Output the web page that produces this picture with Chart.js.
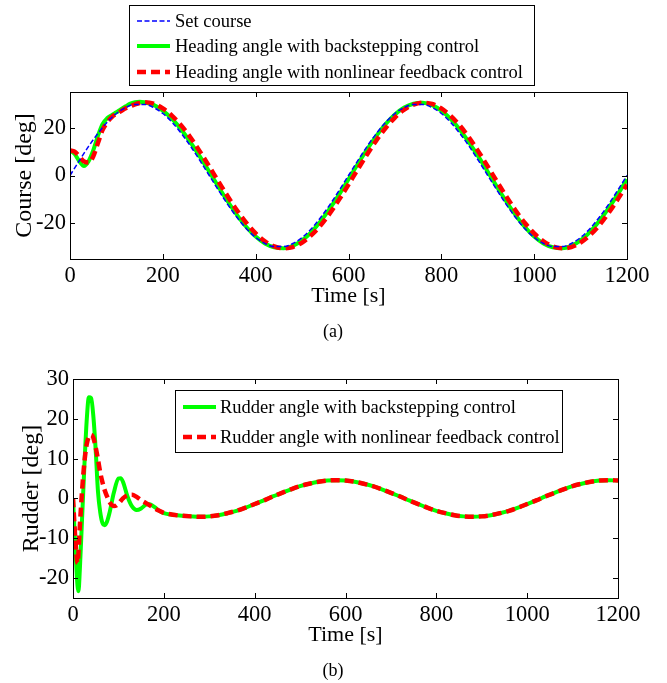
<!DOCTYPE html>
<html><head><meta charset="utf-8">
<script src="https://cdn.jsdelivr.net/npm/chart.js@4.4.1/dist/chart.umd.min.js"></script>
<style>
html,body{margin:0;padding:0;background:#fff;}
#wrap{position:relative;width:667px;height:683px;background:#fff;}
#c1{position:absolute;left:0;top:0;}
#c2{position:absolute;left:0;top:345px;}
</style></head><body>
<div id="wrap"><canvas id="c1" width="667" height="345"></canvas><canvas id="c2" width="667" height="338"></canvas></div>
<script>
// ---------- data (a) Course ----------
const timeTicks = [0,200,400,600,800,1000,1200];
const courseTicks = [-20,0,20];
const rudderTicks = [-20,-10,0,10,20,30];

const setCourseT = [0,20,40,60,80,100,120,140,160,180,200,220,240,260,280,300,320,340,360,380,400,420,440,460,480,500,520,540,560,580,600,620,640,660,680,700,720,740,760,780,800,820,840,860,880,900,920,940,960,980,1000,1020,1040,1060,1080,1100,1120,1140,1160,1180,1200];
const setCourse = [0,6.2,12.2,17.6,22.3,26.0,28.5,29.8,29.8,28.5,26.0,22.3,17.6,12.2,6.2,0,-6.2,-12.2,-17.6,-22.3,-26.0,-28.5,-29.8,-29.8,-28.5,-26.0,-22.3,-17.6,-12.2,-6.2,0,6.2,12.2,17.6,22.3,26.0,28.5,29.8,29.8,28.5,26.0,22.3,17.6,12.2,6.2,0,-6.2,-12.2,-17.6,-22.3,-26.0,-28.5,-29.8,-29.8,-28.5,-26.0,-22.3,-17.6,-12.2,-6.2,0];

const headBackT = [0,10,20,30,40,50,60,70,80,90,100,110,120,130,140,150,160,180,200,220,240,260,280,300,320,340,360,380,400,420,440,460,480,500,520,540,560,580,600,620,640,660,680,700,720,740,760,780,800,820,840,860,880,900,920,940,960,980,1000,1020,1040,1060,1080,1100,1120,1140,1160,1180,1200];
const headBack = [10.5,9,6,4,6,10.5,16.5,21.5,24,25.3,26.5,27.8,29,30.1,30.7,30.9,30.7,29.6,27.2,23.7,19.2,13.8,7.9,1.6,-4.8,-10.9,-16.6,-21.6,-25.6,-28.5,-30.1,-30.5,-29.5,-27.2,-23.7,-19.2,-13.8,-7.9,-1.6,4.8,10.9,16.6,21.6,25.6,28.5,30.1,30.5,29.5,27.2,23.7,19.2,13.8,7.9,1.6,-4.8,-10.9,-16.6,-21.6,-25.6,-28.5,-30.1,-30.5,-29.5,-27.2,-23.7,-19.2,-13.8,-7.9,-1.6];

const headFbT = [0,10,20,30,40,50,60,70,80,90,100,110,120,130,140,150,160,180,200,220,240,260,280,300,320,340,360,380,400,420,440,460,480,500,520,540,560,580,600,620,640,660,680,700,720,740,760,780,800,820,840,860,880,900,920,940,960,980,1000,1020,1040,1060,1080,1100,1120,1140,1160,1180,1200];
const headFb = [10.5,10,8,5.9,5.4,8,13.5,19,22.2,24.5,25.9,27,28.2,29,29.8,30.4,30.7,30.1,28.1,25.0,20.9,15.8,10.0,3.8,-2.6,-8.8,-14.7,-19.9,-24.3,-27.6,-29.7,-30.5,-30.0,-28.1,-25.0,-20.9,-15.8,-10.0,-3.8,2.6,8.8,14.7,19.9,24.3,27.6,29.7,30.5,30.0,28.1,25.0,20.9,15.8,10.0,3.8,-2.6,-8.8,-14.7,-19.9,-24.3,-27.6,-29.7,-30.5,-30.0,-28.1,-25.0,-20.9,-15.8,-10.0,-3.8];

// ---------- data (b) Rudder ----------
const rudBackT = [0,5,10,12,15,20,25,30,35,40,45,50,55,60,65,70,75,80,90,100,105,110,120,130,140,150,160,165,170,180,190,200,220,240,260,280,300,320,340,360,380,400,420,440,460,480,500,520,540,560,580,600,620,640,660,680,700,720,740,760,780,800,820,840,860,880,900,920,940,960,980,1000,1020,1040,1060,1080,1100,1120,1140,1160,1180,1200];
const rudBack = [0,-12,-22,-23.3,-18,-5,8,19.3,25.4,25.2,20.4,12.1,1.7,-3.5,-6.2,-6.7,-5.8,-3.8,1.5,5,5.1,4.2,0.5,-2.0,-2.9,-2.5,-1.6,-1.4,-1.5,-2.2,-3.1,-3.7,-4.1,-4.35,-4.5,-4.6,-4.5,-4.2,-3.7,-3.1,-2.3,-1.4,-0.5,0.5,1.4,2.3,3.1,3.7,4.2,4.5,4.6,4.5,4.2,3.7,3.1,2.3,1.4,0.5,-0.5,-1.4,-2.3,-3.1,-3.7,-4.2,-4.5,-4.6,-4.5,-4.2,-3.7,-3.1,-2.3,-1.4,-0.5,0.5,1.4,2.3,3.1,3.7,4.2,4.5,4.6,4.5];

const rudFbT = [0,5,10,15,20,25,30,35,40,45,50,55,60,65,70,75,80,85,90,95,100,110,120,130,140,150,160,170,180,190,200,220,240,260,280,300,320,340,360,380,400,420,440,460,480,500,520,540,560,580,600,620,640,660,680,700,720,740,760,780,800,820,840,860,880,900,920,940,960,980,1000,1020,1040,1060,1080,1100,1120,1140,1160,1180,1200];
const rudFb = [0,-10,-16.3,-7,2,9,13.5,15.5,16,15.2,12.8,9.8,6.5,4,2,0.5,-0.8,-1.6,-1.9,-1.8,-1.3,0,0.8,0.9,0.4,-0.4,-1.1,-1.8,-2.5,-3.1,-3.6,-4.1,-4.35,-4.5,-4.6,-4.5,-4.2,-3.7,-3.1,-2.3,-1.4,-0.5,0.5,1.4,2.3,3.1,3.7,4.2,4.5,4.6,4.5,4.2,3.7,3.1,2.3,1.4,0.5,-0.5,-1.4,-2.3,-3.1,-3.7,-4.2,-4.5,-4.6,-4.5,-4.2,-3.7,-3.1,-2.3,-1.4,-0.5,0.5,1.4,2.3,3.1,3.7,4.2,4.5,4.6,4.5];

const labelsA = ['Set course','Heading angle with backstepping control','Heading angle with nonlinear feedback control'];
const labelsB = ['Rudder angle with backstepping control','Rudder angle with nonlinear feedback control'];

// ---------- helpers ----------
const pair = (t, v) => t.map((x, i) => ({x: x, y: v[i]}));
const FONT = 'Liberation Serif, Times New Roman, serif';
const BLUE = '#0000ff', GREEN = '#00ff00', RED = '#ff0000';

const framePlugin = {
  id: 'frame',
  afterDraw(chart, args, o) {
    const ctx = chart.ctx, a = chart.chartArea, xs = chart.scales.x, ys = chart.scales.y;
    ctx.save();
    ctx.strokeStyle = '#000'; ctx.lineWidth = 1; ctx.setLineDash([]);
    ctx.strokeRect(a.left + 0.5, a.top + 0.5, a.right - a.left, a.bottom - a.top);
    const L = 5;
    ctx.beginPath();
    xs.ticks.forEach(t => {
      const p = Math.round(xs.getPixelForValue(t.value)) + 0.5;
      ctx.moveTo(p, a.bottom); ctx.lineTo(p, a.bottom - L);
      ctx.moveTo(p, a.top); ctx.lineTo(p, a.top + L);
    });
    ys.ticks.forEach(t => {
      const p = Math.round(ys.getPixelForValue(t.value)) + 0.5;
      ctx.moveTo(a.left, p); ctx.lineTo(a.left + L, p);
      ctx.moveTo(a.right, p); ctx.lineTo(a.right - L, p);
    });
    ctx.stroke();
    // legend
    const lg = o.legend;
    if (lg) {
      ctx.fillStyle = '#fff';
      ctx.fillRect(lg.x, lg.y, lg.w, lg.h);
      ctx.strokeStyle = '#000'; ctx.lineWidth = 1;
      ctx.strokeRect(lg.x + 0.5, lg.y + 0.5, lg.w, lg.h);
      const ds = chart.data.datasets;
      lg.items.forEach((idx, k) => {
        const d = ds[idx], y = lg.rows[k];
        ctx.save();
        ctx.strokeStyle = d.borderColor; ctx.lineWidth = d.borderWidth;
        ctx.setLineDash(d.borderDash || []);
        ctx.beginPath(); ctx.moveTo(lg.sx0, y); ctx.lineTo(lg.sx1, y); ctx.stroke();
        ctx.restore();
        ctx.fillStyle = '#000'; ctx.font = lg.font; ctx.textBaseline = 'middle'; ctx.textAlign = 'left';
        ctx.fillText(d.label, lg.tx, y + 1);
      });
    }
    if (o.caption) {
      ctx.fillStyle = '#000'; ctx.font = o.caption.font; ctx.textAlign = 'center'; ctx.textBaseline = 'middle';
      ctx.fillText(o.caption.text, o.caption.x, o.caption.y);
    }
    ctx.restore();
  }
};

function makeScales(xmin, xmax, ymin, ymax, xt, yt, ytitle, yw, ytitlePad) {
  return {
    x: {
      type: 'linear', min: xmin, max: xmax,
      afterBuildTicks: s => { s.ticks = xt.map(v => ({value: v})); },
      afterFit: s => { s.height = 50; },
      grid: {display: false, drawTicks: false},
      border: {display: false},
      ticks: {color: '#000', padding: 4, font: {family: FONT, size: 22.5}, maxRotation: 0, autoSkip: false, callback: v => String(v)},
      title: {display: true, text: 'Time [s]', color: '#000', font: {family: FONT, size: 22}, padding: {top: 0, bottom: 0}}
    },
    y: {
      type: 'linear', min: ymin, max: ymax,
      afterBuildTicks: s => { s.ticks = yt.map(v => ({value: v})); },
      afterFit: s => { s.width = yw; },
      grid: {display: false, drawTicks: false},
      border: {display: false},
      ticks: {color: '#000', padding: 4, font: {family: FONT, size: 22.5}, autoSkip: false, callback: v => String(v)},
      title: {display: true, text: ytitle, color: '#000', font: {family: FONT, size: 24}, padding: {top: ytitlePad, bottom: 0}}
    }
  };
}

const common = {
  responsive: false, animation: false, devicePixelRatio: 1,
  elements: {point: {radius: 0}, line: {cubicInterpolationMode: 'monotone'}},
  plugins: {legend: {display: false}, tooltip: {enabled: false}}
};

new Chart(document.getElementById('c1'), {
  type: 'line',
  data: {datasets: [
    {label: labelsA[0], data: pair(setCourseT, setCourse), borderColor: BLUE, borderWidth: 1.5, borderDash: [5, 2.5], fill: false, order: 0},
    {label: labelsA[1], data: pair(headBackT, headBack), borderColor: GREEN, borderWidth: 4, fill: false, order: 2},
    {label: labelsA[2], data: pair(headFbT, headFb), borderColor: RED, borderWidth: 4.5, borderDash: [9, 5], fill: false, order: 1}
  ]},
  options: Object.assign({}, common, {
    layout: {padding: {left: 0, top: 92, right: 40, bottom: 36}},
    scales: makeScales(0, 1200, -35, 35, timeTicks, courseTicks, 'Course [deg]', 70, 10),
    plugins: Object.assign({}, common.plugins, {
      frame: {
        legend: {x: 129, y: 5, w: 405, h: 80, rows: [21, 46, 72], sx0: 137, sx1: 170, tx: 175, items: [0, 1, 2], font: '18.5px ' + FONT},
        caption: {text: '(a)', x: 333, y: 332, font: '18px ' + FONT}
      }
    })
  }),
  plugins: [framePlugin]
});

new Chart(document.getElementById('c2'), {
  type: 'line',
  data: {datasets: [
    {label: labelsB[0], data: pair(rudBackT, rudBack), borderColor: GREEN, borderWidth: 4, fill: false, order: 1},
    {label: labelsB[1], data: pair(rudFbT, rudFb), borderColor: RED, borderWidth: 4.5, borderDash: [9, 5], fill: false, order: 0}
  ]},
  options: Object.assign({}, common, {
    layout: {padding: {left: 0, top: 34, right: 49, bottom: 35}},
    scales: makeScales(0, 1200, -25, 30, timeTicks, rudderTicks, 'Rudder [deg]', 73, 17),
    plugins: Object.assign({}, common.plugins, {
      frame: {
        legend: {x: 175, y: 45, w: 387, h: 62, rows: [62, 92], sx0: 183, sx1: 216, tx: 220, items: [0, 1], font: '18.5px ' + FONT},
        caption: {text: '(b)', x: 333, y: 326, font: '18px ' + FONT}
      }
    })
  }),
  plugins: [framePlugin]
});
</script>
</body></html>
